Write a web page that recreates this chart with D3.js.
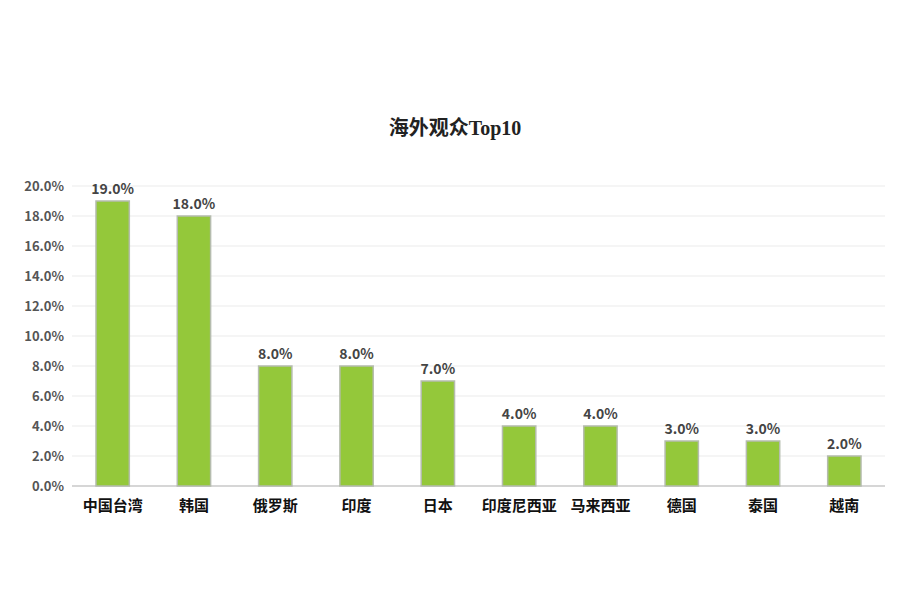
<!DOCTYPE html>
<html>
<head>
<meta charset="utf-8">
<script src="https://d3js.org/d3.v7.min.js"></script>
<style>
  body { margin: 0; background: #fff; }
  svg text { font-family: "Noto Sans CJK SC", "Noto Sans", sans-serif; }
</style>
</head>
<body>
<div id="chart"></div>
<script>
// audience share by country / region
var categories = ["中国台湾", "韩国", "俄罗斯", "印度", "日本", "印度尼西亚", "马来西亚", "德国", "泰国", "越南"];
var values = [19.0, 18.0, 8.0, 8.0, 7.0, 4.0, 4.0, 3.0, 3.0, 2.0];
var yTicks = [0, 2, 4, 6, 8, 10, 12, 14, 16, 18, 20];
var title = "海外观众Top10";

var W = 901, H = 616;
var m = { left: 72, right: 16, top: 186, bottom: 130 };

var svg = d3.select("#chart").append("svg")
    .attr("width", W).attr("height", H);

var x = d3.scaleBand()
    .domain(categories)
    .range([m.left, W - m.right])
    .paddingInner(0.59)
    .paddingOuter(0.295);

var y = d3.scaleLinear()
    .domain([0, 20])
    .range([H - m.bottom, m.top]);

// gridlines
svg.append("g").selectAll("line")
    .data(yTicks.filter(function (d) { return d > 0; }))
    .enter().append("line")
    .attr("x1", m.left).attr("x2", W - m.right)
    .attr("y1", function (d) { return y(d); })
    .attr("y2", function (d) { return y(d); })
    .attr("stroke", "#ebebeb").attr("stroke-width", 1);

// y axis labels
var yAxis = d3.axisLeft(y).tickValues(yTicks)
    .tickFormat(function (d) { return d.toFixed(1) + "%"; })
    .tickSize(0).tickPadding(8);
var gy = svg.append("g").attr("transform", "translate(" + m.left + ",0)").call(yAxis);
gy.select(".domain").remove();
gy.selectAll("text")
    .attr("font-size", 13).attr("font-weight", "bold").attr("fill", "#555");

// x axis
var xAxis = d3.axisBottom(x).tickSize(0).tickPadding(14);
var gx = svg.append("g").attr("transform", "translate(0," + y(0) + ")").call(xAxis);
gx.select(".domain").attr("stroke", "#c8c8c8").attr("stroke-width", 1.5)
    .attr("d", "M" + m.left + ",0H" + (W - m.right));
gx.selectAll("text")
    .attr("font-size", 15).attr("font-weight", "bold").attr("fill", "#111");

// bars
svg.append("g").selectAll("rect")
    .data(values)
    .enter().append("rect")
    .attr("x", function (d, i) { return x(categories[i]); })
    .attr("y", function (d) { return y(d); })
    .attr("width", x.bandwidth())
    .attr("height", function (d) { return y(0) - y(d); })
    .attr("fill", "#94c83a")
    .attr("stroke", "#b5bcae").attr("stroke-width", 1.5);

// value labels
svg.append("g").selectAll("text")
    .data(values)
    .enter().append("text")
    .attr("x", function (d, i) { return x(categories[i]) + x.bandwidth() / 2; })
    .attr("y", function (d) { return y(d) - 7; })
    .attr("text-anchor", "middle")
    .attr("font-size", 14).attr("font-weight", "bold").attr("fill", "#444")
    .text(function (d) { return d.toFixed(1) + "%"; });

// title
svg.append("text")
    .attr("x", 455)
    .attr("y", 135)
    .attr("text-anchor", "middle")
    .attr("font-size", 20).attr("font-weight", "bold").attr("fill", "#222")
    .style("font-family", "'Liberation Serif', 'Noto Sans CJK SC', serif")
    .text(title);
</script>
</body>
</html>
